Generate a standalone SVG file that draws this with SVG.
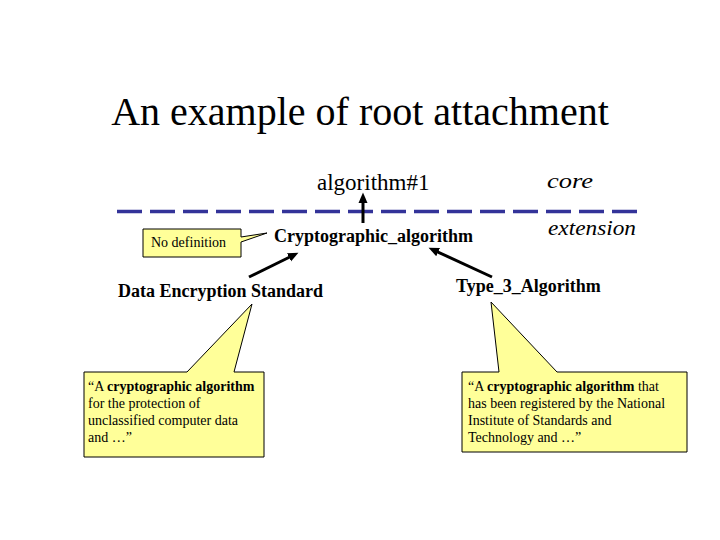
<svg xmlns="http://www.w3.org/2000/svg" width="720" height="540" viewBox="0 0 720 540">
<style>
.t{font-family:"Liberation Serif","Times New Roman",serif;fill:#000}
.title{font-size:40px}
.lbl{font-size:18px;font-weight:bold}
.big{font-size:23px}
.it{font-size:22px;font-style:italic}
.note{font-size:14px}
.b{font-weight:bold}
.call{fill:#FFFF99;stroke:#000;stroke-width:1}
.conn{stroke:#000;stroke-width:3;fill:none}
</style>
<defs>
<marker id="ah" markerUnits="userSpaceOnUse" markerWidth="11" markerHeight="10" viewBox="0 0 11 10" refX="2" refY="5" orient="auto">
<path d="M0,0.5 L10.5,5 L0,9.5 z" fill="#000"/>
</marker>
</defs>
<rect width="720" height="540" fill="#fff"/>
<g id="title"><text class="t title" x="360" y="125" text-anchor="middle">An example of root attachment</text></g>
<g id="boundary">
<line x1="117" y1="211.5" x2="637" y2="211.5" stroke="#333399" stroke-width="3.5" stroke-dasharray="25 8"/>
<text class="t it" x="547" y="188" textLength="46" lengthAdjust="spacingAndGlyphs">core</text>
<text class="t it" x="548" y="235" textLength="88" lengthAdjust="spacingAndGlyphs">extension</text>
</g>
<g id="algorithm1"><text class="t big" x="317" y="190">algorithm#1</text></g>
<g id="cryptographic_algorithm"><text class="t lbl" x="274" y="242">Cryptographic_algorithm</text></g>
<g id="des"><text class="t lbl" x="118" y="297">Data Encryption Standard</text></g>
<g id="type3"><text class="t lbl" x="456" y="292">Type_3_Algorithm</text></g>
<g id="no_definition">
<path class="call" d="M143,229 H241 V237 L267,233 L241,242 V257 H143 Z"/>
<text class="t" style="font-size:14px" x="151" y="247">No definition</text>
</g>
<g id="des_note">
<path class="call" d="M84,372 H187 L252,304 L234,372 H264 V457 H84 Z"/>
<text class="t note" x="88" y="391">“A <tspan class="b">cryptographic algorithm</tspan></text>
<text class="t note" x="88" y="408">for the protection of</text>
<text class="t note" x="88" y="425">unclassified computer data</text>
<text class="t note" x="88" y="442">and …”</text>
</g>
<g id="type3_note">
<path class="call" d="M462,372 H499 L491,302 L557,372 H687 V452 H462 Z"/>
<text class="t note" x="468" y="391">“A <tspan class="b">cryptographic algorithm</tspan> that</text>
<text class="t note" x="468" y="408">has been registered by the National</text>
<text class="t note" x="468" y="425">Institute of Standards and</text>
<text class="t note" x="468" y="442">Technology and …”</text>
</g>
<g id="connectors">
<line class="conn" x1="363" y1="223" x2="363" y2="201" marker-end="url(#ah)"/>
<line class="conn" x1="249" y1="277" x2="290.8" y2="256.5" marker-end="url(#ah)"/>
<line class="conn" x1="492" y1="277" x2="436.3" y2="251.3" marker-end="url(#ah)"/>
</g>
</svg>
